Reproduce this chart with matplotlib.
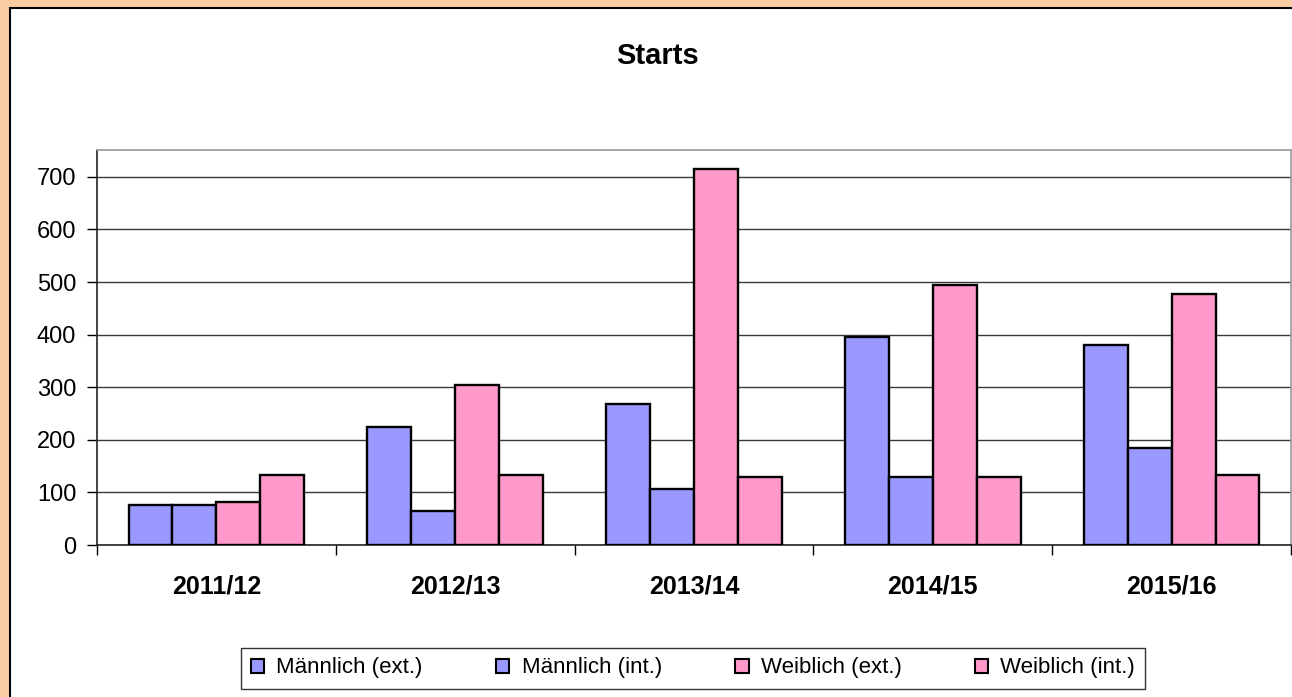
import matplotlib
matplotlib.use("Agg")
import matplotlib.pyplot as plt
from matplotlib.patches import Rectangle, Patch
from matplotlib import font_manager
import numpy as np

names = {f.name for f in font_manager.fontManager.ttflist}
if "Liberation Sans Narrow" in names:
    FAM = ["Liberation Sans Narrow", "Liberation Sans", "DejaVu Sans"]
    k = 1.22
else:
    FAM = ["Liberation Sans", "DejaVu Sans"]
    k = 1.0
plt.rcParams['font.family'] = FAM

categories = ["2011/12", "2012/13", "2013/14", "2014/15", "2015/16"]
series_names = ["Männlich (ext.)", "Männlich (int.)", "Weiblich (ext.)", "Weiblich (int.)"]
maennlich_ext = [77, 225, 268, 395, 380]
maennlich_int = [77, 65, 106, 130, 185]
weiblich_ext = [82, 305, 715, 495, 477]
weiblich_int = [133, 133, 129, 130, 133]
series = [maennlich_ext, maennlich_int, weiblich_ext, weiblich_int]
colors = ["#9999FF", "#9999FF", "#FF99CC", "#FF99CC"]
yticks = [0, 100, 200, 300, 400, 500, 600, 700]

W, H = 1292, 697
fig = plt.figure(figsize=(W / 100, H / 100), dpi=100)
fig.patch.set_facecolor("#FACDA2")

# white chart panel
panel = Rectangle((10 / W, -0.05), 1.2, 1 - 8 / H + 0.05, transform=fig.transFigure,
                  facecolor="white", edgecolor="black", linewidth=1.5, zorder=-5)
fig.patches.append(panel)

ax = fig.add_axes([97 / W, 1 - 545 / H, (1291 - 97) / W, (545 - 150) / H])
ax.set_zorder(2)
ax.set_facecolor("white")

x = np.arange(len(categories))
bw = 0.184
for i, (vals, c) in enumerate(zip(series, colors)):
    ax.bar(x + (i - 1.5) * bw, vals, width=bw, color=c, edgecolor="black",
           linewidth=1.7, zorder=3)

ax.set_xlim(-0.5, len(categories) - 0.5)
ax.set_ylim(0, 751)
ax.set_yticks(yticks)
ax.set_yticklabels([str(v) for v in yticks], fontsize=17 * k)
ax.yaxis.grid(True, color="#3a3a3a", linewidth=1.0, zorder=1)
ax.set_axisbelow(True)

ax.set_xticks(x)
ax.set_xticklabels(categories, fontsize=18 * k, fontweight="bold")
ax.tick_params(axis="x", which="major", length=0, pad=21)
ax.set_xticks(np.arange(-0.5, len(categories), 1.0), minor=True)
ax.tick_params(axis="x", which="minor", length=7, width=1, color="black", direction="out")
ax.tick_params(axis="y", length=7, width=1, color="black", direction="out", pad=8)

for s in ["left", "bottom"]:
    ax.spines[s].set_color("#222222")
    ax.spines[s].set_linewidth(1.2)
for s in ["top", "right"]:
    ax.spines[s].set_color("#999999")
    ax.spines[s].set_linewidth(1.2)

fig.text(658 / W, 1 - 56 / H, "Starts", ha="center", va="center",
         fontsize=21 * (1.24 if k > 1 else 1), fontweight="bold")

handles = [Patch(facecolor=c, edgecolor="black", linewidth=1.5) for c in colors]
leg = fig.legend(handles, series_names, loc="center", bbox_to_anchor=(693 / W, 1 - 668 / H),
                 ncol=4, fontsize=16 * k, frameon=True, fancybox=False, shadow=False,
                 handlelength=0.6 / k, handleheight=0.6 / k, handletextpad=0.55 / k,
                 columnspacing=3.3 / k, borderpad=0.45 / k, borderaxespad=0)
leg.get_frame().set_edgecolor("black")
leg.get_frame().set_linewidth(1.0)

fig.savefig("out.png", dpi=100, facecolor=fig.get_facecolor())
